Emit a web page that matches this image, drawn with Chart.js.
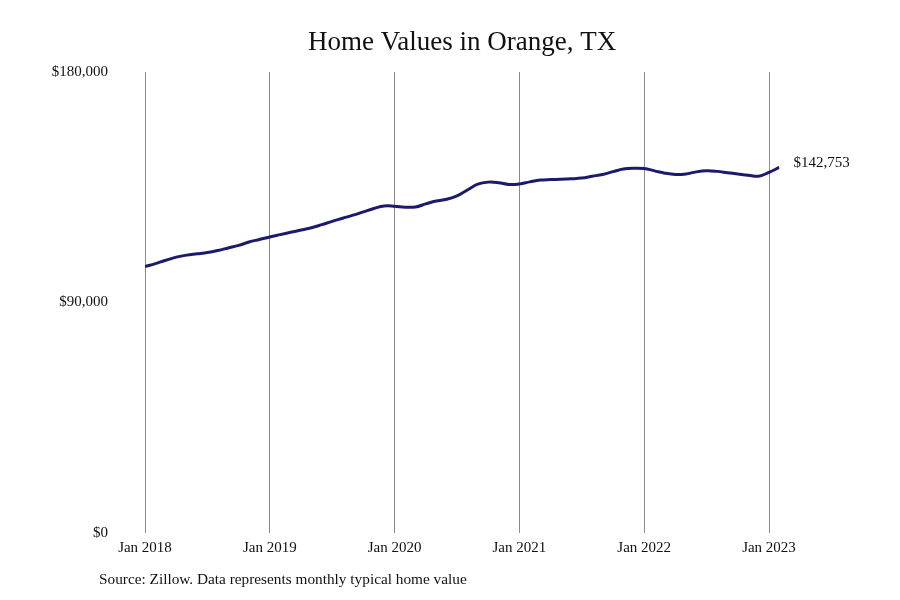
<!DOCTYPE html>
<html>
<head>
<meta charset="utf-8">
<script src="https://cdn.jsdelivr.net/npm/chart.js@4/dist/chart.umd.min.js"></script>
<style>
  body { margin: 0; background: #fff; }
  #wrap { width: 900px; height: 600px; }
</style>
</head>
<body>
<div id="wrap"><canvas id="homeChart"></canvas></div>
<script>
// monthly typical home value, Jan 2018 .. Feb 2023
const months = [];
for (let y = 2018; y <= 2023; y++) {
  ["Jan","Feb","Mar","Apr","May","Jun","Jul","Aug","Sep","Oct","Nov","Dec"].forEach(m => months.push(m + " " + y));
}
const values = [
  104000, 105200, 106500, 107700, 108500, 109000, 109500, 110300, 111300, 112300, 113600, 114600,
  115600, 116500, 117400, 118300, 119200, 120400, 121700, 122900, 124100, 125400, 126700, 127700,
  127600, 127200, 127300, 128500, 129600, 130300, 131600, 133900, 136200, 137000, 136800, 136100,
  136300, 137100, 137800, 138000, 138100, 138300, 138600, 139300, 140000, 141100, 142100, 142400,
  142300, 141400, 140500, 140000, 140200, 141000, 141400, 141200, 140700, 140200, 139700, 139300,
  140800, 142753
];
const yTicks = [0, 90000, 180000];
const titleText = "Home Values in Orange, TX";
const sourceText = "Source: Zillow. Data represents monthly typical home value";

const serif = "'Liberation Serif', serif";
const points = values.map((v, i) => ({ x: i, y: v }));

const extras = {
  id: "extras",
  afterDraw(chart) {
    const ctx = chart.ctx;
    const area = chart.chartArea;
    ctx.save();
    ctx.fillStyle = "#111";
    ctx.textBaseline = "middle";
    ctx.font = "27px " + serif;
    ctx.textAlign = "center";
    ctx.fillText(titleText, (area.left + area.right) / 2, 43);
    ctx.font = "15.3px " + serif;
    ctx.textAlign = "left";
    ctx.fillText(sourceText, 99, 580);
    // end label
    ctx.font = "15px " + serif;
    const last = values.length - 1;
    const px = chart.scales.x.getPixelForValue(last);
    const py = chart.scales.y.getPixelForValue(values[last]);
    ctx.fillText("$" + values[last].toLocaleString("en-US"), px + 14, py - 4);
    ctx.restore();
  }
};

new Chart(document.getElementById("homeChart"), {
  type: "line",
  data: {
    datasets: [{
      data: points,
      borderColor: "#1c1a6c",
      borderWidth: 3,
      pointRadius: 0,
      tension: 0.4,
      fill: false
    }]
  },
  options: {
    responsive: true,
    maintainAspectRatio: false,
    animation: false,
    layout: { padding: { top: 72, right: 120.6, bottom: 0, left: 0 } },
    plugins: { legend: { display: false }, tooltip: { enabled: false } },
    scales: {
      x: {
        type: "linear",
        min: 0,
        max: values.length - 1,
        afterFit(s) { s.height = 67; },
        afterBuildTicks(s) { s.ticks = [0, 12, 24, 36, 48, 60].map(v => ({ value: v })); },
        grid: { color: "#8c8c8c", lineWidth: 1, drawTicks: false },
        border: { display: false },
        ticks: {
          padding: 6,
          maxRotation: 0,
          autoSkip: false,
          color: "#111",
          font: { family: serif, size: 15 },
          callback: v => months[v]
        }
      },
      y: {
        min: 0,
        max: 180000,
        afterFit(s) { s.width = 145; },
        afterBuildTicks(s) { s.ticks = yTicks.map(v => ({ value: v })); },
        grid: { display: false },
        border: { display: false },
        ticks: {
          padding: 29,
          color: "#111",
          font: { family: serif, size: 15 },
          callback: v => "$" + v.toLocaleString("en-US")
        }
      }
    }
  },
  plugins: [extras]
});
</script>
</body>
</html>
